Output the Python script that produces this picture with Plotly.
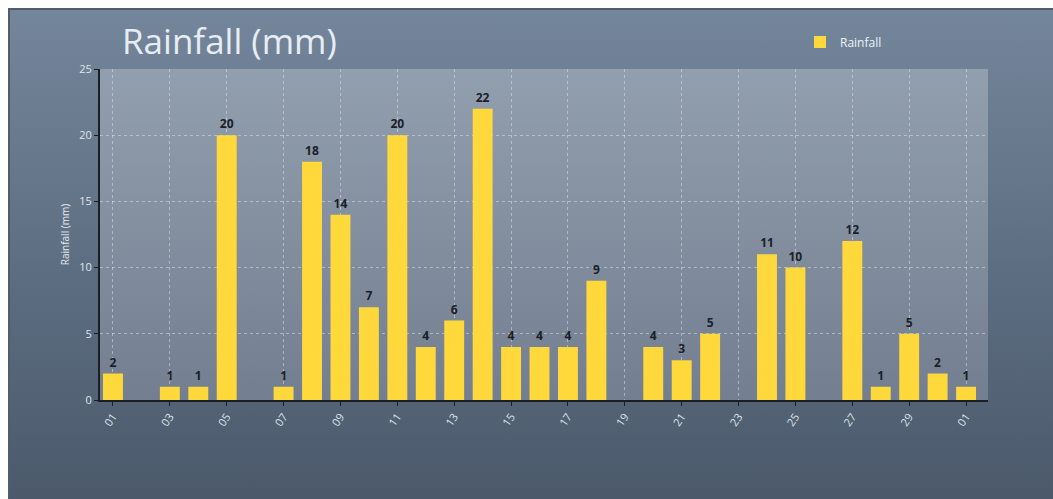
import base64
import plotly.graph_objects as go

# Daily rainfall for one 30-day month plus the first day of the next month
day_labels = ["01", "02", "03", "04", "05", "06", "07", "08", "09", "10",
              "11", "12", "13", "14", "15", "16", "17", "18", "19", "20",
              "21", "22", "23", "24", "25", "26", "27", "28", "29", "30", "01"]
rainfall_mm = [2, 0, 1, 1, 20, 0, 1, 18, 14, 7,
               20, 4, 6, 22, 4, 4, 4, 9, 0, 4,
               3, 5, 0, 11, 10, 0, 12, 1, 5, 2, 1]
y_ticks = [0, 5, 10, 15, 20, 25]

W, H = 1053, 499
M_L, M_R, M_T, M_B = 100, 65, 69, 99
plot_w = W - M_L - M_R
plot_h = H - M_T - M_B

positions = list(range(len(day_labels)))
tick_pos = positions[::2]
tick_text = day_labels[::2]
bar_text = [str(v) if v else "" for v in rainfall_mm]


def svg_uri(svg):
    return "data:image/svg+xml;base64," + base64.b64encode(svg.encode()).decode()


# Whole-canvas backdrop: white margin, framed slate gradient panel
frame_svg = f"""<svg xmlns='http://www.w3.org/2000/svg' width='{W}' height='{H}' viewBox='0 0 {W} {H}' preserveAspectRatio='none'>
<defs><linearGradient id='g' x1='0' y1='0' x2='0' y2='1'>
<stop offset='0' stop-color='#74869b'/><stop offset='0.55' stop-color='#5d6d81'/><stop offset='1' stop-color='#4b596b'/>
</linearGradient></defs>
<rect width='{W}' height='{H}' fill='#ffffff'/>
<rect x='8' y='8' width='{W - 8}' height='{H - 8}' fill='url(#g)'/>
<rect x='8' y='8' width='{W - 8}' height='2' fill='#535d6a'/>
<rect x='8' y='8' width='2' height='{H - 8}' fill='#535d6a'/>
</svg>"""

# Plot-area panel gradient
panel_svg = """<svg xmlns='http://www.w3.org/2000/svg' width='100' height='100' viewBox='0 0 100 100' preserveAspectRatio='none'>
<defs><linearGradient id='p' x1='0' y1='0' x2='0' y2='1'>
<stop offset='0' stop-color='#929fae'/><stop offset='1' stop-color='#737f90'/>
</linearGradient></defs>
<rect width='100' height='100' fill='url(#p)'/>
</svg>"""

fig = go.Figure()
fig.add_trace(go.Bar(
    x=positions,
    y=rainfall_mm,
    name="Rainfall",
    width=0.7,
    marker=dict(color="#ffd93b", line=dict(width=0)),
    text=bar_text,
    textposition="outside",
    textfont=dict(family="Open Sans", size=12, color="#1a2029", weight="bold"),
    cliponaxis=False,
))

fig.update_layout(
    width=W, height=H,
    margin=dict(l=M_L, r=M_R, t=M_T, b=M_B, pad=0),
    paper_bgcolor="#ffffff",
    plot_bgcolor="rgba(0,0,0,0)",
    font=dict(family="Open Sans", color="#e3e9f0"),
    bargap=0.3,
    title=dict(
        text="Rainfall (mm)",
        font=dict(family="Open Sans", size=35, color="#e8edf3"),
        xref="container", x=122 / W, xanchor="left",
        yref="container", y=1 - 42 / H, yanchor="middle",
    ),
    showlegend=True,
    legend=dict(
        x=(800 - M_L) / plot_w, xanchor="left",
        y=1 + (M_T - 42) / plot_h, yanchor="middle",
        bgcolor="rgba(0,0,0,0)",
        font=dict(family="Open Sans", size=12, color="#eef2f6"),
        itemwidth=30,
    ),
    xaxis=dict(
        range=[-13 / 28.5, 30 + 22 / 28.5],
        tickmode="array", tickvals=tick_pos, ticktext=tick_text,
        tickangle=-55,
        tickfont=dict(size=11, color="#dfe5ec"),
        ticks="outside", ticklen=4, tickcolor="#1a1f26",
        showline=True, linecolor="#1a1f26", linewidth=2,
        showgrid=True, gridcolor="rgba(235,240,246,0.45)", griddash="3px,3px", gridwidth=1,
        zeroline=False, automargin=False,
    ),
    yaxis=dict(
        range=[0, 25],
        tickmode="array", tickvals=y_ticks,
        tickfont=dict(size=11, color="#dfe5ec"),
        ticks="outside", ticklen=4, tickcolor="#1a1f26",
        showline=True, linecolor="#1a1f26", linewidth=2,
        showgrid=True, gridcolor="rgba(235,240,246,0.45)", griddash="3px,3px", gridwidth=1,
        zeroline=False, automargin=False,
        title=dict(text="Rainfall (mm)", font=dict(size=10, color="#e3e9f0"), standoff=8),
    ),
    images=[
        dict(source=svg_uri(frame_svg), xref="paper", yref="paper",
             x=-M_L / plot_w, y=1 + M_T / plot_h,
             sizex=W / plot_w, sizey=H / plot_h,
             xanchor="left", yanchor="top", sizing="stretch", layer="below"),
        dict(source=svg_uri(panel_svg), xref="paper", yref="paper",
             x=0, y=1, sizex=1, sizey=1,
             xanchor="left", yanchor="top", sizing="stretch", layer="below"),
    ],
)

fig.write_html("out.html")
